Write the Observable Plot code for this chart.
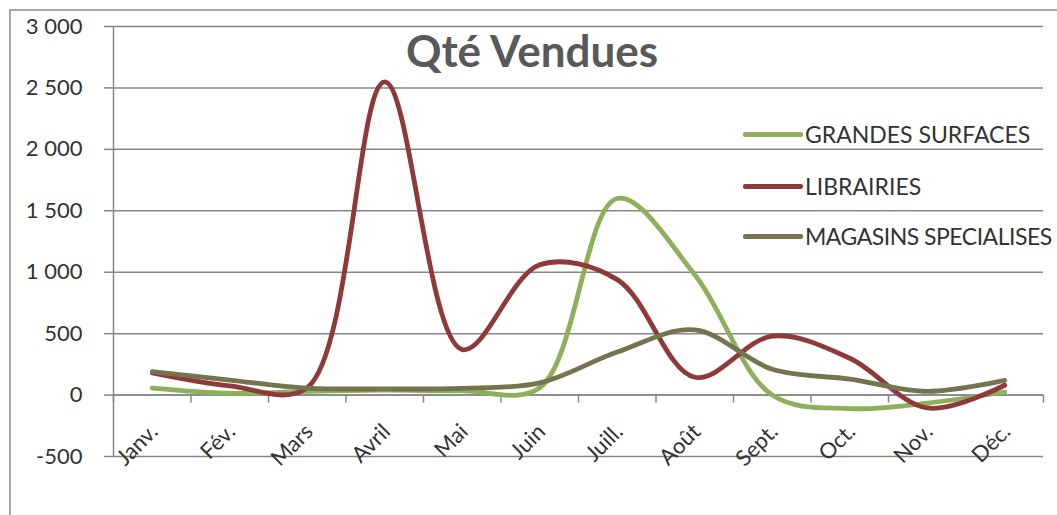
<!DOCTYPE html>
<html>
<head>
<meta charset="utf-8">
<script src="https://cdn.jsdelivr.net/npm/d3@7"></script>
<script src="https://cdn.jsdelivr.net/npm/@observablehq/plot@0.6"></script>
<style>
  body { margin: 0; background: #fff; font-family: Lato, sans-serif; }
  #wrap { position: relative; width: 1057px; height: 515px; overflow: hidden; background: #fff; }
  #frame { position: absolute; left: 9px; top: 9px; width: 1200px; height: 700px;
           border-left: 2px solid #a8a8a8; border-top: 2px solid #a8a8a8; pointer-events: none; }
  #chart { position: absolute; left: 0; top: 0; }
  #title { position: absolute; left: 532px; top: 28px; transform: translateX(-50%);
           font: bold 44px Lato, sans-serif; line-height: 1; color: #595959; white-space: nowrap; }
  .lg { position: absolute; left: 743px; height: 0; white-space: nowrap; }
  .lg .sw { position: absolute; left: 0; top: -2px; width: 60px; height: 4.5px; border-radius: 2px; }
  .lg .tx { position: absolute; left: 62px; top: -14px; font: 23px Lato, sans-serif; line-height: 28px; color: #333; }
  .lg.last .tx { letter-spacing: -0.5px; }
</style>
</head>
<body>
<div id="wrap">
  <div id="chart"></div>
  <div id="frame"></div>
  <div id="title">Qté Vendues</div>
</div>
<script>
const months = ["Janv.", "Fév.", "Mars", "Avril", "Mai", "Juin", "Juill.", "Août", "Sept.", "Oct.", "Nov.", "Déc."];
const grandesSurfaces     = [57, 15, 30, 40, 35, 60, 1600, 980, 0, -110, -65, 25];
const librairies          = [180, 75, 60, 2550, 370, 1060, 940, 145, 480, 300, -105, 80];
const magasinsSpecialises = [190, 122, 57, 50, 55, 100, 350, 530, 210, 130, 30, 120];
const seriesNames = ["GRANDES SURFACES", "LIBRAIRIES", "MAGASINS SPECIALISES"];
const seriesColors = ["#8DB05A", "#8E3A3A", "#74744F"];
const yTicks = [-500, 0, 500, 1000, 1500, 2000, 2500, 3000];
const legendRowsY = [134, 186, 236];

const seriesValues = [grandesSurfaces, librairies, magasinsSpecialises];
const data = seriesValues.flatMap((vals, s) =>
  vals.map((v, i) => ({ series: seriesNames[s], pos: i + 0.5, value: v })));
const monthData = months.map((m, i) => ({ label: m, pos: i + 0.5 }));

const fmt = d3.formatLocale({ decimal: ",", thousands: " ", grouping: [3], currency: ["", " €"], minus: "-" }).format(",");
const gridColor = "#878787";

const chart = Plot.plot({
  width: 1057,
  height: 515,
  marginLeft: 113,
  marginRight: 14,
  marginTop: 26,
  marginBottom: 59,
  style: { fontFamily: "Lato, sans-serif", fontSize: "22px", color: "#333", background: "transparent" },
  x: { domain: [0, 12], axis: null },
  y: { domain: [-500, 3000], axis: null },
  color: { domain: seriesNames, range: seriesColors },
  marks: [
    Plot.gridY(yTicks, { stroke: gridColor, strokeOpacity: 1, strokeWidth: 1.5 }),
    Plot.axisY(yTicks, { tickSize: 9, tickPadding: 22, tickFormat: fmt, label: null, stroke: gridColor, strokeWidth: 1.5, fill: "#333", fontSize: 22 }),
    Plot.ruleX([0], { y1: -500, y2: 3000, stroke: gridColor, strokeWidth: 1.5 }),
    Plot.ruleY([0], { stroke: gridColor, strokeWidth: 1.5 }),
    Plot.ruleX(d3.range(13), { y1: 0, y2: -65, stroke: gridColor, strokeWidth: 1.5 }),
    Plot.text(monthData, { x: "pos", y: () => 0, text: "label", rotate: -45, textAnchor: "end", dx: 2, dy: 33, fontSize: 22, fill: "#333" }),
    Plot.line(data, { x: "pos", y: "value", stroke: "series", z: "series", curve: "catmull-rom", strokeWidth: 4.8, strokeLinejoin: "round", strokeLinecap: "round" })
  ]
});
document.getElementById("chart").appendChild(chart);

const wrap = document.getElementById("wrap");
seriesNames.forEach((name, i) => {
  const row = document.createElement("div");
  row.className = "lg" + (i === seriesNames.length - 1 ? " last" : "");
  row.style.top = legendRowsY[i] + "px";
  const sw = document.createElement("div");
  sw.className = "sw";
  sw.style.background = seriesColors[i];
  const tx = document.createElement("div");
  tx.className = "tx";
  tx.textContent = name;
  row.appendChild(sw);
  row.appendChild(tx);
  wrap.appendChild(row);
});
</script>
</body>
</html>
